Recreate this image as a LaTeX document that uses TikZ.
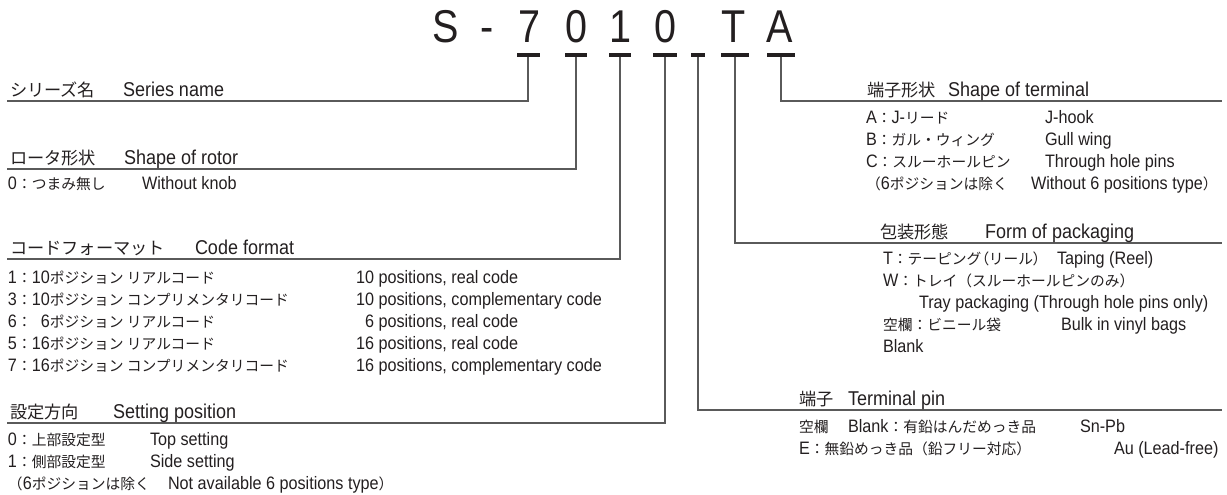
\documentclass[tikz,border=0pt]{standalone}
\usepackage{fontspec}
\setmainfont{Liberation Sans}[FakeStretch=0.9]
\newfontfamily\ttlfont{Liberation Sans}[FakeStretch=0.86]
\newfontfamily\jpH{Noto Sans CJK JP}[Scale=0.86]
\newfontfamily\jpI{Noto Sans CJK JP}[Scale=0.82]
\newfontfamily\jpP{Noto Sans CJK JP}[Scale=0.82,RawFeature=+palt]
\newcommand\JH[1]{{\jpH #1}}
\newcommand\JI[1]{{\jpI #1}}
\newcommand\JP[1]{{\jpP #1}}
\definecolor{ink}{HTML}{231F20}
\definecolor{lineg}{HTML}{5A5A5A}
\begin{document}
\begin{tikzpicture}[x=1pt,y=-1pt,
  txt/.style={anchor=base west,inner sep=0pt,outer sep=0pt,text=ink},
  hd/.style={txt,font=\fontsize{20}{22}\selectfont},
  it/.style={txt,font=\fontsize{18}{20}\selectfont},
  ttl/.style={anchor=base,inner sep=0pt,text=ink,font=\ttlfont\fontsize{46}{50}\selectfont},
  ln/.style={draw=lineg,line width=1.2pt},
  barline/.style={draw=ink,line width=3.6pt}]
\useasboundingbox (0,0) rectangle (1227,495);
% title letters
\node[ttl] (tS) at (446,43) {S};
\node[ttl] (tD) at (487,43) {-};
\node[ttl] (t7) at (529,43) {7};
\node[ttl] (t0a) at (576,43) {0};
\node[ttl] (t1) at (620,43) {1};
\node[ttl] (t0b) at (665,43) {0};
\node[ttl] (tT) at (734,43) {T};
\node[ttl] (tA) at (780,43) {A};
% bars under the code letters
\draw[barline] (517,55) -- (540,55);
\draw[barline] (565,55) -- (587,55);
\draw[barline] (609,55) -- (631,55);
\draw[barline] (653,55) -- (677,55);
\draw[barline] (691,55) -- (705,55);
\draw[barline] (721,55) -- (749,55);
\draw[barline] (767,55) -- (795,55);
\coordinate (b1) at (528,57); \coordinate (b2) at (576,57); \coordinate (b3) at (620,57);
\coordinate (b4) at (665,57); \coordinate (b5) at (698,57); \coordinate (b6) at (735,57);
\coordinate (b7) at (781,57);
% connector corners and ends
\coordinate (c1) at (528,101); \coordinate (e1) at (7,101);
\coordinate (c2) at (576,169); \coordinate (e2) at (7,169);
\coordinate (c3) at (620,259); \coordinate (e3) at (7,259);
\coordinate (c4) at (665,423); \coordinate (e4) at (7,423);
\coordinate (c5) at (698,410); \coordinate (e5) at (1222,410);
\coordinate (c6) at (735,243); \coordinate (e6) at (1222,243);
\coordinate (c7) at (781,101); \coordinate (e7) at (1222,101);
\draw[ln] (b1) -- (c1) -- (e1);
\draw[ln] (b2) -- (c2) -- (e2);
\draw[ln] (b3) -- (c3) -- (e3);
\draw[ln] (b4) -- (c4) -- (e4);
\draw[ln] (b5) -- (c5) -- (e5);
\draw[ln] (b6) -- (c6) -- (e6);
\draw[ln] (b7) -- (c7) -- (e7);
% Series name
\node[hd] (snj) at (10,96) {\JH{シリーズ名}};
\node[hd] (sne) at (123,96) {Series name};
% rotor
\node[hd] (roj) at (10,164) {\JH{ロータ形状}};
\node[hd] (roe) at (124,164) {Shape of rotor};
\node[it] (ro0) at (8,189) {0\JI{：つまみ無し}};
\node[it] (ro0e) at (142,189) {Without knob};
% code format
\node[hd] (cfj) at (10,254) {\JH{コードフォーマット}};
\node[hd] (cfe) at (195,254) {Code format};
\node[it] (cf1) at (8,283) {1\JI{：}10\JI{ポジション リアルコード}};
\node[it] (cf1e) at (356,283) {10 positions, real code};
\node[it] (cf3) at (8,305) {3\JI{：}10\JI{ポジション コンプリメンタリコード}};
\node[it] (cf3e) at (356,305) {10 positions, complementary code};
\node[it] (cf6) at (8,327) {6\JI{：}\phantom{1}6\JI{ポジション リアルコード}};
\node[it] (cf6e) at (356,327) {\phantom{1}6 positions, real code};
\node[it] (cf5) at (8,349) {5\JI{：}16\JI{ポジション リアルコード}};
\node[it] (cf5e) at (356,349) {16 positions, real code};
\node[it] (cf7) at (8,371) {7\JI{：}16\JI{ポジション コンプリメンタリコード}};
\node[it] (cf7e) at (356,371) {16 positions, complementary code};
% setting position
\node[hd] (spj) at (10,418) {\JH{設定方向}};
\node[hd] (spe) at (113,418) {Setting position};
\node[it] (sp0) at (8,445) {0\JI{：上部設定型}};
\node[it] (sp0e) at (150,445) {Top setting};
\node[it] (sp1) at (8,467) {1\JI{：側部設定型}};
\node[it] (sp1e) at (150,467) {Side setting};
\node[it] (sp6) at (8,489) {\JI{（}6\JI{ポジションは除く}};
\node[it] (sp6e) at (168,489) {Not available 6 positions type\JI{）}};
% shape of terminal
\node[hd] (stj) at (867,96) {\JH{端子形状}};
\node[hd] (ste) at (948,96) {Shape of terminal};
\node[it] (stA) at (866,123) {A\JI{：}J-\JI{リード}};
\node[it] (stAe) at (1045,123) {J-hook};
\node[it] (stB) at (866,145) {B\JI{：ガル・ウィング}};
\node[it] (stBe) at (1045,145) {Gull wing};
\node[it] (stC) at (866,167) {C\JI{：スルーホールピン}};
\node[it] (stCe) at (1045,167) {Through hole pins};
\node[it] (st6) at (866,189) {\JI{（}6\JI{ポジションは除く}};
\node[it] (st6e) at (1031,189) {Without 6 positions type\JI{）}};
% packaging
\node[hd] (fpj) at (880,238) {\JH{包装形態}};
\node[hd] (fpe) at (985,238) {Form of packaging};
\node[it] (fpT) at (883,264) {T\JI{：テーピング}\JP{（}\JI{リール}\JP{）}};
\node[it] (fpTe) at (1057,264) {Taping (Reel)};
\node[it] (fpW) at (883,286) {W\JI{：トレイ（スルーホールピンのみ）}};
\node[it] (fpWe) at (919,308) {Tray packaging (Through hole pins only)};
\node[it] (fpB) at (883,330) {\JI{空欄：ビニール袋}};
\node[it] (fpBe) at (1061,330) {Bulk in vinyl bags};
\node[it] (fpBl) at (883,352) {Blank};
% terminal pin
\node[hd] (tpj) at (799,405) {\JH{端子}};
\node[hd] (tpe) at (848,405) {Terminal pin};
\node[it] (tp1) at (799,432) {\JI{空欄}};
\node[it] (tp1b) at (848,432) {Blank\JI{：有鉛はんだめっき品}};
\node[it] (tp1e) at (1080,432) {Sn-Pb};
\node[it] (tp2) at (799,454) {E\JI{：無鉛めっき品（鉛フリー対応）}};
\node[it] (tp2e) at (1114,454) {Au (Lead-free)};
\end{tikzpicture}
\end{document}
